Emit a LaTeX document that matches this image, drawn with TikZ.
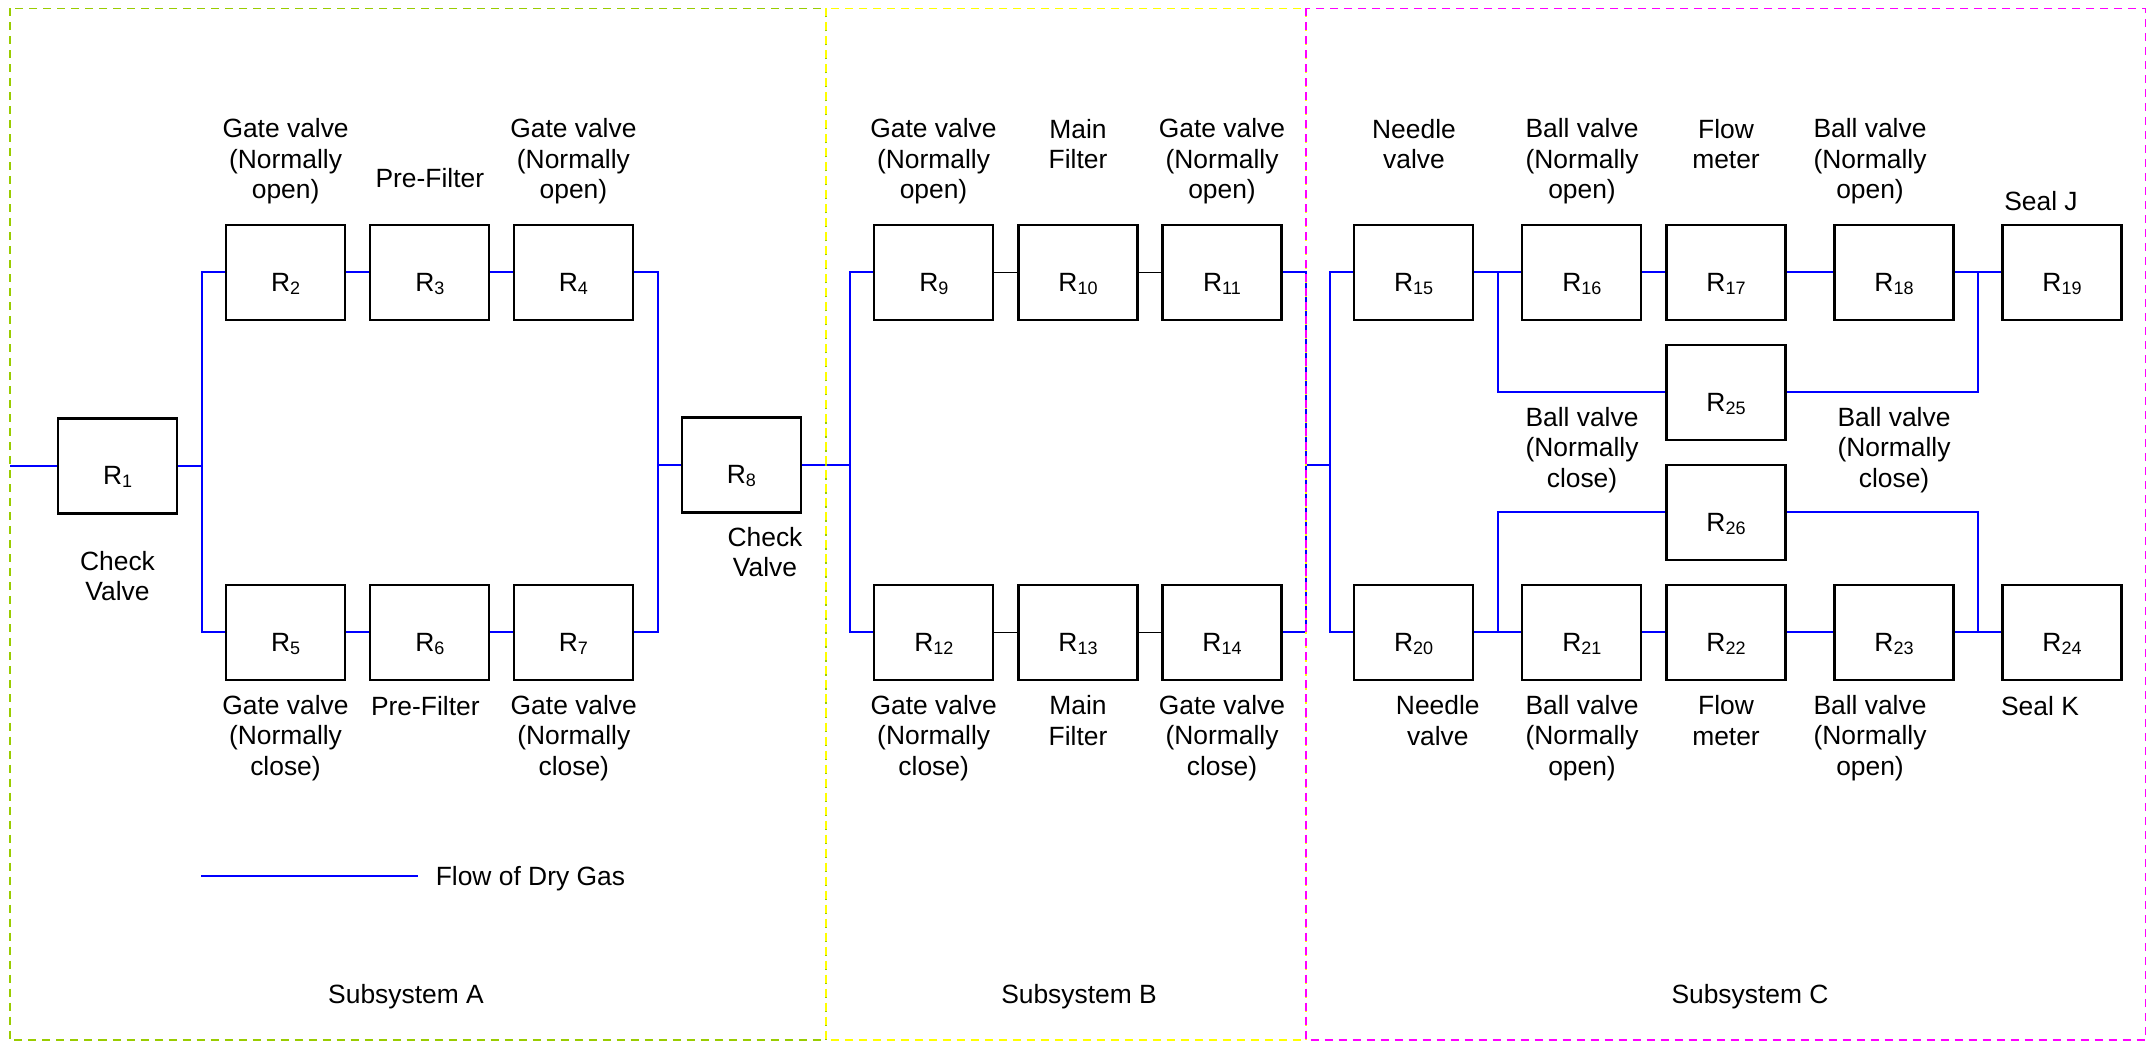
\documentclass[tikz,border=0pt]{standalone}
\usepackage{fontspec}
\setmainfont{Liberation Sans}
\definecolor{frameAcol}{HTML}{99CC00}
\definecolor{frameBcol}{HTML}{FFFF00}
\definecolor{frameCcol}{HTML}{FF00FF}
\newcommand\Rn[1]{R\raisebox{-1.5pt}{\fontsize{9}{9}\selectfont #1}}
\begin{document}
\begin{tikzpicture}[x=0.5pt,y=-0.5pt,
  box/.style={draw=black,line width=1.1pt,minimum width=59.5pt,minimum height=47.5pt,inner sep=0pt,text height=19pt,text depth=0pt,font=\fontsize{13.2}{15.25}\selectfont},
  lbl/.style={inner sep=0pt,align=center,anchor=base,font=\fontsize{13.2}{15.25}\selectfont},
  flow/.style={draw=blue,line width=1pt},
  link/.style={draw=black,line width=0.8pt},
  frameA/.style={draw=frameAcol,line width=0.8pt,dash pattern=on 4pt off 3pt},
  frameB/.style={draw=frameBcol,line width=0.8pt,dash pattern=on 4pt off 3pt},
  frameC/.style={draw=frameCcol,line width=0.8pt,dash pattern=on 4pt off 3pt}]
\useasboundingbox (0,0) rectangle (2147,1042);

% boxes
\node[box] (R1) at (117.6,466) {\Rn{1}};
\node[box] (R2) at (285.6,272.5) {\Rn{2}};
\node[box] (R3) at (429.8,272.5) {\Rn{3}};
\node[box] (R4) at (573.4,272.5) {\Rn{4}};
\node[box] (R5) at (285.6,632.5) {\Rn{5}};
\node[box] (R6) at (429.8,632.5) {\Rn{6}};
\node[box] (R7) at (573.4,632.5) {\Rn{7}};
\node[box] (R8) at (741.4,465) {\Rn{8}};
\node[box] (R9) at (933.8,272.5) {\Rn{9}};
\node[box] (R10) at (1078,272.5) {\Rn{10}};
\node[box] (R11) at (1222,272.5) {\Rn{11}};
\node[box] (R12) at (933.8,632.5) {\Rn{12}};
\node[box] (R13) at (1078,632.5) {\Rn{13}};
\node[box] (R14) at (1222,632.5) {\Rn{14}};
\node[box] (R15) at (1413.7,272.5) {\Rn{15}};
\node[box] (R16) at (1581.8,272.5) {\Rn{16}};
\node[box] (R17) at (1726,272.5) {\Rn{17}};
\node[box] (R18) at (1894,272.5) {\Rn{18}};
\node[box] (R19) at (2062,272.5) {\Rn{19}};
\node[box] (R20) at (1413.7,632.5) {\Rn{20}};
\node[box] (R21) at (1581.8,632.5) {\Rn{21}};
\node[box] (R22) at (1726,632.5) {\Rn{22}};
\node[box] (R23) at (1894,632.5) {\Rn{23}};
\node[box] (R24) at (2062,632.5) {\Rn{24}};
\node[box] (R25) at (1726,392.5) {\Rn{25}};
\node[box] (R26) at (1726,512.5) {\Rn{26}};

% junction coordinates
\coordinate (inA) at (10,466);
\coordinate (jA1) at (201.6,466);
\coordinate (jA2) at (657.5,465);
\coordinate (jB1) at (849.8,465);
\coordinate (jB2) at (1305.7,465);
\coordinate (jC) at (1330,465);
\coordinate (jC1) at (1498.3,272.5);
\coordinate (jC2) at (1977.5,272.5);
\coordinate (jC3) at (1498.3,632.5);
\coordinate (jC4) at (1977.5,632.5);

% subsystem A flow
\draw[flow] (inA) -- (R1.west);
\draw[flow] (R1.east) -- (jA1);
\draw[flow] (R2.west) -| (jA1) |- (R5.west);
\draw[flow] (R2.east) -- (R3.west) (R3.east) -- (R4.west);
\draw[flow] (R5.east) -- (R6.west) (R6.east) -- (R7.west);
\draw[flow] (R4.east) -| (jA2) |- (R7.east);
\draw[flow] (jA2) -- (R8.west);
% subsystem B flow
\draw[flow] (R8.east) -- (jB1);
\draw[flow] (R9.west) -| (jB1) |- (R12.west);
\draw[link] (R9.east) -- (R10.west) (R10.east) -- (R11.west);
\draw[link] (R12.east) -- (R13.west) (R13.east) -- (R14.west);
\draw[flow] (R11.east) -| (jB2) |- (R14.east);
% subsystem C flow
\draw[flow] (jB2) -- (jC);
\draw[flow] (R15.west) -| (jC) |- (R20.west);
\draw[flow] (R15.east) -- (R16.west) (R16.east) -- (R17.west) (R17.east) -- (R18.west) (R18.east) -- (R19.west);
\draw[flow] (R20.east) -- (R21.west) (R21.east) -- (R22.west) (R22.east) -- (R23.west) (R23.east) -- (R24.west);
\draw[flow] (jC1) |- (R25.west);
\draw[flow] (R25.east) -| (jC2);
\draw[flow] (jC3) |- (R26.west);
\draw[flow] (R26.east) -| (jC4);

% frames
\draw[frameA] (10,8.5) rectangle (826,1040);
\draw[frameB] (826,8.5) rectangle (1306,1040);
\draw[frameC] (1306,8.5) rectangle (2145.5,1040);

% labels subsystem A (base = baseline of last line)
\node[lbl] (L2) at (285.6,199) {Gate valve\\(Normally\\open)};
\node[lbl] (L3) at (429.8,187.5) {Pre-Filter};
\node[lbl] (L4) at (573.4,199) {Gate valve\\(Normally\\open)};
\node[lbl] (L1) at (117.5,601) {Check\\Valve};
\node[lbl] (L8) at (765,577) {Check\\Valve};
\node[lbl] (L5) at (285.5,775) {Gate valve\\(Normally\\close)};
\node[lbl] (L6) at (425.3,715) {Pre-Filter};
\node[lbl] (L7) at (573.8,775) {Gate valve\\(Normally\\close)};
% labels subsystem B
\node[lbl] (L9) at (933.5,199) {Gate valve\\(Normally\\open)};
\node[lbl] (L10) at (1078,169) {Main\\Filter};
\node[lbl] (L11) at (1222,199) {Gate valve\\(Normally\\open)};
\node[lbl] (L12) at (933.7,775) {Gate valve\\(Normally\\close)};
\node[lbl] (L13) at (1078,745) {Main\\Filter};
\node[lbl] (L14) at (1222,775) {Gate valve\\(Normally\\close)};
% labels subsystem C
\node[lbl] (L15) at (1414,169) {Needle\\valve};
\node[lbl] (L16) at (1582,199) {Ball valve\\(Normally\\open)};
\node[lbl] (L17) at (1726,169) {Flow\\meter};
\node[lbl] (L18) at (1870,199) {Ball valve\\(Normally\\open)};
\node[lbl] (L19) at (2041,210.5) {Seal J};
\node[lbl] (L25a) at (1582,487.5) {Ball valve\\(Normally\\close)};
\node[lbl] (L25b) at (1894,487.5) {Ball valve\\(Normally\\close)};
\node[lbl] (L20) at (1437.8,745) {Needle\\valve};
\node[lbl] (L21) at (1582,775) {Ball valve\\(Normally\\open)};
\node[lbl] (L22) at (1726,745) {Flow\\meter};
\node[lbl] (L23) at (1870,775) {Ball valve\\(Normally\\open)};
\node[lbl] (L24) at (2040,715) {Seal K};

% legend
\coordinate (lg1) at (201,875.5);
\coordinate (lg2) at (418,875.5);
\draw[flow] (lg1) -- (lg2);
\node[lbl,anchor=base west] (legtxt) at (435.4,885.5) {Flow of Dry Gas};

% subsystem titles
\node[lbl] (SA) at (406,1003) {Subsystem A};
\node[lbl] (SB) at (1079,1003) {Subsystem B};
\node[lbl] (SC) at (1750,1003) {Subsystem C};
\end{tikzpicture}
\end{document}
